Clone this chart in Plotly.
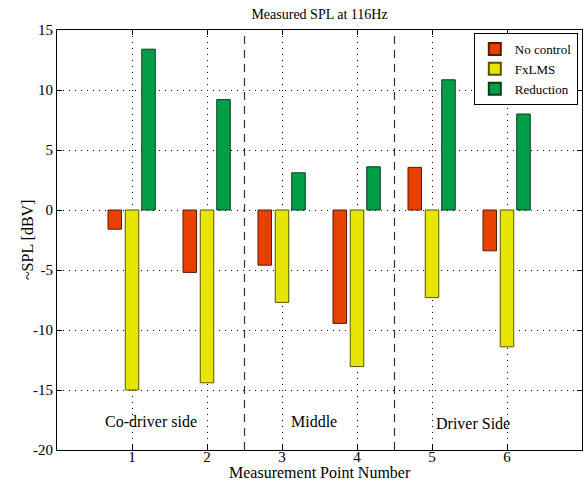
import plotly.graph_objects as go

points = [1, 2, 3, 4, 5, 6]
no_control = [-1.6, -5.2, -4.6, -9.45, 3.55, -3.4]
fxlms = [-15.0, -14.4, -7.7, -13.05, -7.3, -11.4]
reduction = [13.4, 9.2, 3.1, 3.6, 10.85, 8.0]
series_names = ["No control", "FxLMS", "Reduction"]
region_labels = ["Co-driver side", "Middle", "Driver Side"]
region_x = [1.25, 3.43, 5.54]
region_y = [-17.6, -17.6, -17.75]
dividers = [2.5, 4.5]
yticks = [-20, -15, -10, -5, 0, 5, 10, 15]

FONT = "Liberation Serif, Times New Roman, serif"
colors = ["#E64100", "#E6E600", "#009E47"]
edges = ["#5a1a00", "#555500", "#0a3a1a"]
offsets = [-0.32, -0.09, 0.13]

fig = go.Figure()
for name, vals, c, e, off in zip(series_names, [no_control, fxlms, reduction], colors, edges, offsets):
    fig.add_trace(go.Bar(x=points, y=vals, name=name, width=0.18, offset=off,
                         marker=dict(color=c, line=dict(color=e, width=1))))

for d in dividers:
    fig.add_shape(type="line", xref="x", yref="paper", x0=d, x1=d, y0=0, y1=1,
                  line=dict(color="#333333", width=1.2, dash="8px,6px"))

for t, x, y in zip(region_labels, region_x, region_y):
    fig.add_annotation(x=x, y=y, text=t, showarrow=False,
                       font=dict(family=FONT, size=16, color="black"))

fig.add_annotation(text="Measurement Point Number", xref="paper", yref="paper",
                   x=0.5, y=-0.054, xanchor="center", yanchor="middle", showarrow=False,
                   font=dict(family=FONT, size=16, color="black"))
fig.add_annotation(text="~SPL [dBV]", xref="paper", yref="paper",
                   x=-0.057, y=0.5, xanchor="center", yanchor="middle", showarrow=False,
                   textangle=-90, font=dict(family=FONT, size=16, color="black"))

fig.update_layout(
    width=586, height=484,
    margin=dict(l=57, r=4, t=30, b=34, autoexpand=False),
    paper_bgcolor="white", plot_bgcolor="white",
    barmode="overlay",
    font=dict(family=FONT, size=15, color="black"),
    title=dict(text="Measured SPL at 116Hz", x=0.5, xref="paper", xanchor="center",
               y=0.971, yanchor="middle", font=dict(family=FONT, size=14)),
    showlegend=True,
    legend=dict(x=0.992, y=0.993, xanchor="right", yanchor="top",
                bgcolor="white", bordercolor="black", borderwidth=1,
                font=dict(family=FONT, size=13), tracegroupgap=0,
                itemsizing="constant", itemwidth=30),
)
fig.update_xaxes(range=[0, 7], tickvals=points, ticktext=[str(p) for p in points],
                 showgrid=True, gridcolor="black", griddash="1px,5px", gridwidth=1,
                 showline=True, linecolor="black", linewidth=1, mirror="ticks",
                 ticks="inside", ticklen=5, tickcolor="black", zeroline=False,
                 ticklabelstandoff=-7,
                 automargin=False, tickfont=dict(family=FONT, size=15))
fig.update_yaxes(range=[-20, 15], tickvals=yticks, ticktext=[str(v) for v in yticks],
                 showgrid=True, gridcolor="black", griddash="1px,5px", gridwidth=1,
                 showline=True, linecolor="black", linewidth=1, mirror="ticks",
                 ticks="inside", ticklen=5, tickcolor="black", zeroline=False,
                 automargin=False, tickfont=dict(family=FONT, size=15))

fig.write_html("out.html", config={"displayModeBar": False},
               post_script="document.body.style.margin='0';")
